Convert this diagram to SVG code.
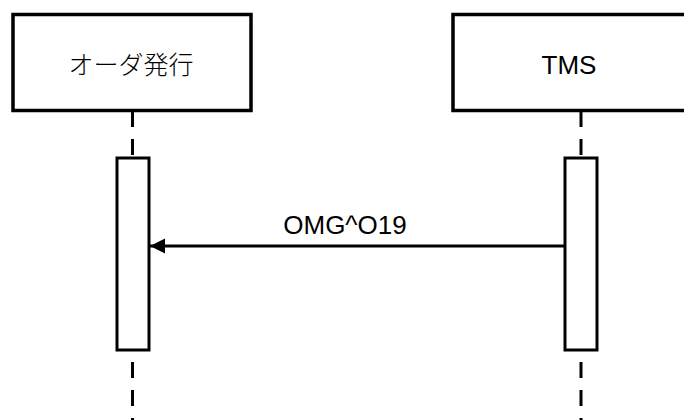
<svg xmlns="http://www.w3.org/2000/svg" width="684" height="420" viewBox="0 0 684 420">
<style>
.box{fill:#fff;stroke:#000;stroke-width:3.5}
.act{fill:#fff;stroke:#000;stroke-width:3}
.life{stroke:#000;stroke-width:3;stroke-dasharray:16 12;fill:none}
.lbl{font-family:"Liberation Sans","Noto Sans CJK JP",sans-serif;font-size:26px;fill:#000;text-anchor:middle}
.jp{font-family:"Noto Sans CJK JP",sans-serif;font-size:25px;font-weight:300;fill:#000;text-anchor:middle}
.msg{stroke:#000;stroke-width:3;fill:none}
</style>
<defs>
<marker id="ah" markerUnits="userSpaceOnUse" markerWidth="16" markerHeight="16" refX="15" refY="8" orient="auto" viewBox="0 0 16 16">
<path d="M15,8 L0,0.5 L0,15.5 Z" fill="#000"/>
</marker>
</defs>
<rect width="684" height="420" fill="#fff"/>
<g id="lifelines">
<line class="life" x1="132.5" y1="111" x2="132.5" y2="158"/>
<line class="life" x1="132.5" y1="362" x2="132.5" y2="420"/>
<line class="life" x1="581" y1="111" x2="581" y2="158"/>
<line class="life" x1="581" y1="362" x2="581" y2="420"/>
</g>
<g id="order">
<rect class="box" x="13" y="14.5" width="238" height="96"/>
<text class="jp" x="131" y="74">オーダ発行</text>
</g>
<g id="tms">
<rect class="box" x="453" y="14.5" width="260" height="96"/>
<text class="lbl" x="569" y="74">TMS</text>
</g>
<g id="act-order">
<rect class="act" x="117" y="158" width="32" height="192"/>
</g>
<g id="act-tms">
<rect class="act" x="565" y="158" width="32" height="192"/>
</g>
<g id="connectors">
<line class="msg" x1="565" y1="246" x2="150" y2="246" marker-end="url(#ah)"/>
<text class="lbl" x="345" y="234">OMG^O19</text>
</g>
</svg>
